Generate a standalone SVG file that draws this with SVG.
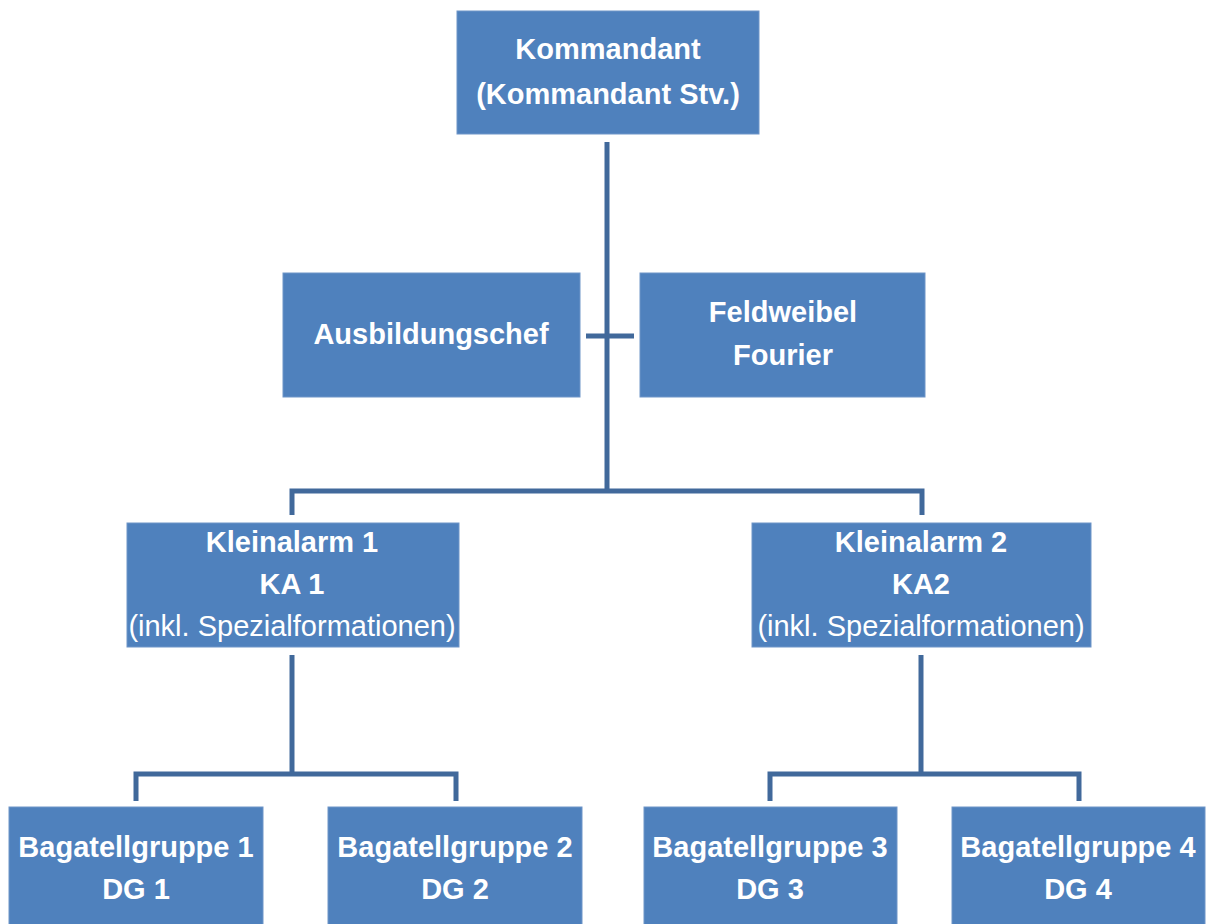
<svg xmlns="http://www.w3.org/2000/svg" width="1207" height="924" viewBox="0 0 1207 924">
<style>
.box{fill:#4F81BD;stroke:#6F95C8;stroke-width:1}
.t{font-family:"Liberation Sans",Arial,sans-serif;font-size:29px;font-weight:bold;fill:#FFFFFF;text-anchor:middle}
.r{font-weight:normal}
.c{fill:none;stroke:#41699B;stroke-width:5;stroke-linejoin:miter;stroke-linecap:butt}
</style>
<rect width="1207" height="924" fill="#FFFFFF"/>
<g id="connectors">
<path class="c" d="M607,142 V491"/>
<path class="c" d="M586,336 H634"/>
<path class="c" d="M292,515 V491 H922 V515"/>
<path class="c" d="M292,655 V774"/>
<path class="c" d="M136,801 V774 H456 V801"/>
<path class="c" d="M921,655 V774"/>
<path class="c" d="M770,801 V774 H1079 V801"/>
</g>
<g id="kommandant">
<rect class="box" x="457" y="11" width="302" height="123"/>
<text class="t" x="608" y="59">Kommandant</text>
<text class="t" x="608" y="104">(Kommandant Stv.)</text>
</g>
<g id="ausbildungschef">
<rect class="box" x="283" y="273" width="297" height="124"/>
<text class="t" x="431" y="344">Ausbildungschef</text>
</g>
<g id="feldweibel">
<rect class="box" x="640" y="273" width="285" height="124"/>
<text class="t" x="783" y="322">Feldweibel</text>
<text class="t" x="783" y="365">Fourier</text>
</g>
<g id="ka1">
<rect class="box" x="127" y="523" width="332" height="124"/>
<text class="t" x="292" y="552">Kleinalarm 1</text>
<text class="t" x="292" y="594">KA 1</text>
<text class="t r" x="292" y="636">(inkl. Spezialformationen)</text>
</g>
<g id="ka2">
<rect class="box" x="752" y="523" width="339" height="124"/>
<text class="t" x="921" y="552">Kleinalarm 2</text>
<text class="t" x="921" y="594">KA2</text>
<text class="t r" x="921" y="636">(inkl. Spezialformationen)</text>
</g>
<g id="dg1">
<rect class="box" x="9" y="807" width="254" height="125"/>
<text class="t" x="136" y="857">Bagatellgruppe 1</text>
<text class="t" x="136" y="899">DG 1</text>
</g>
<g id="dg2">
<rect class="box" x="328" y="807" width="254" height="125"/>
<text class="t" x="455" y="857">Bagatellgruppe 2</text>
<text class="t" x="455" y="899">DG 2</text>
</g>
<g id="dg3">
<rect class="box" x="644" y="807" width="253" height="125"/>
<text class="t" x="770" y="857">Bagatellgruppe 3</text>
<text class="t" x="770" y="899">DG 3</text>
</g>
<g id="dg4">
<rect class="box" x="952" y="807" width="253" height="125"/>
<text class="t" x="1078" y="857">Bagatellgruppe 4</text>
<text class="t" x="1078" y="899">DG 4</text>
</g>
</svg>
